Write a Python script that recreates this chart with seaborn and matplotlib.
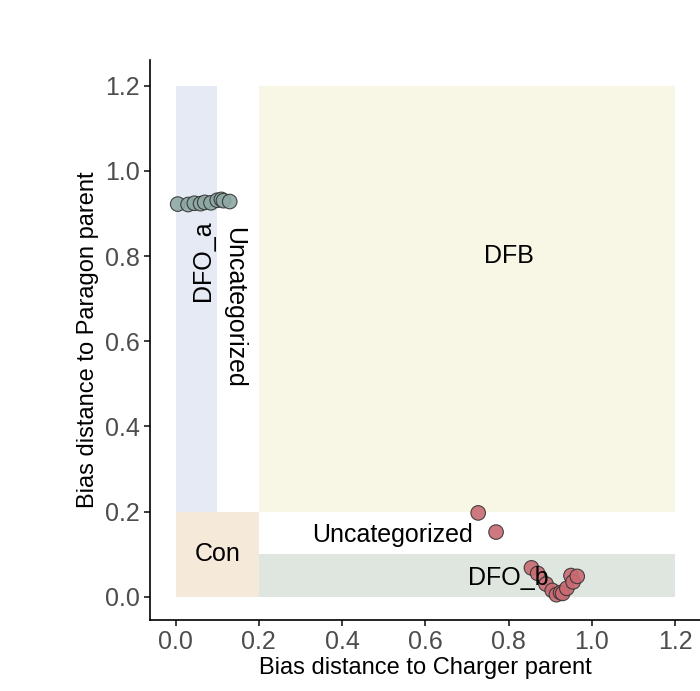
import matplotlib
matplotlib.use("Agg")
import matplotlib.pyplot as plt
import matplotlib.patches as mpatches
import pandas as pd
import seaborn as sns

# Points
paragon_x = [0.005, 0.03, 0.045, 0.06, 0.07, 0.085, 0.1, 0.11, 0.115, 0.13]
paragon_y = [0.922, 0.921, 0.924, 0.923, 0.926, 0.925, 0.931, 0.933, 0.930, 0.928]
charger_x = [0.727, 0.77, 0.855, 0.87, 0.89, 0.905, 0.915, 0.925, 0.93, 0.94, 0.95, 0.955, 0.965]
charger_y = [0.197, 0.152, 0.068, 0.055, 0.03, 0.015, 0.005, 0.01, 0.008, 0.02, 0.05, 0.035, 0.048]

# category regions: (label, x0, x1, y0, y1, colour)
regions = [
    ("DFO_a", 0.0, 0.1, 0.2, 1.2, "#e5eaf5"),
    ("DFB", 0.2, 1.2, 0.2, 1.2, "#f8f7e6"),
    ("Con", 0.0, 0.2, 0.0, 0.2, "#f5e9da"),
    ("DFO_b", 0.2, 1.2, 0.0, 0.1, "#dfe6df"),
]

df = pd.DataFrame({
    "x": paragon_x + charger_x,
    "y": paragon_y + charger_y,
    "group": ["a"] * len(paragon_x) + ["b"] * len(charger_x),
})

sns.set_theme(style="white", font="Liberation Sans")
fig = plt.figure(figsize=(7, 6.91), dpi=100)
ax = fig.add_axes([0.214, 0.103, 0.786, 0.81])

for name, x0, x1, y0, y1, col in regions:
    ax.add_patch(mpatches.Rectangle((x0, y0), x1 - x0, y1 - y0, color=col, lw=0, zorder=0))

sns.scatterplot(data=df, x="x", y="y", hue="group", palette={"a": "#8ea8a4", "b": "#c96a72"},
                s=110, edgecolor="#333333", linewidth=0.8, alpha=0.9, legend=False, ax=ax, zorder=3)

fs = 18
ax.text(0.065, 0.79, "DFO_a", rotation=90, ha="center", va="center", fontsize=fs, color="black", zorder=4)
ax.text(0.14, 0.68, "Uncategorized", rotation=-90, ha="center", va="center", fontsize=fs, color="black", zorder=4)
ax.text(0.8, 0.8, "DFB", ha="center", va="center", fontsize=fs, color="black", zorder=4)
ax.text(0.52, 0.145, "Uncategorized", ha="center", va="center", fontsize=fs, color="black", zorder=4)
ax.text(0.1, 0.1, "Con", ha="center", va="center", fontsize=fs, color="black", zorder=4)
ax.text(0.8, 0.045, "DFO_b", ha="center", va="center", fontsize=fs, color="black", zorder=4)

ax.set_xlim(-0.062, 1.26)
ax.set_ylim(-0.054, 1.26)
ax.set_xticks([0, 0.2, 0.4, 0.6, 0.8, 1.0, 1.2])
ax.set_yticks([0, 0.2, 0.4, 0.6, 0.8, 1.0, 1.2])
ax.set_xticklabels(["0.0", "0.2", "0.4", "0.6", "0.8", "1.0", "1.2"])
ax.set_yticklabels(["0.0", "0.2", "0.4", "0.6", "0.8", "1.0", "1.2"])
ax.tick_params(labelsize=18, labelcolor="#4d4d4d", length=4, left=True, bottom=True)
ax.set_xlabel("Bias distance to Charger parent", fontsize=17, labelpad=2, color="black")
ax.set_ylabel("Bias distance to Paragon parent", fontsize=17, labelpad=4, color="black")
for side in ["top", "right"]:
    ax.spines[side].set_visible(False)
for side in ["left", "bottom"]:
    ax.spines[side].set_color("black")
    ax.spines[side].set_linewidth(1.2)

fig.savefig("out.png", dpi=100)
